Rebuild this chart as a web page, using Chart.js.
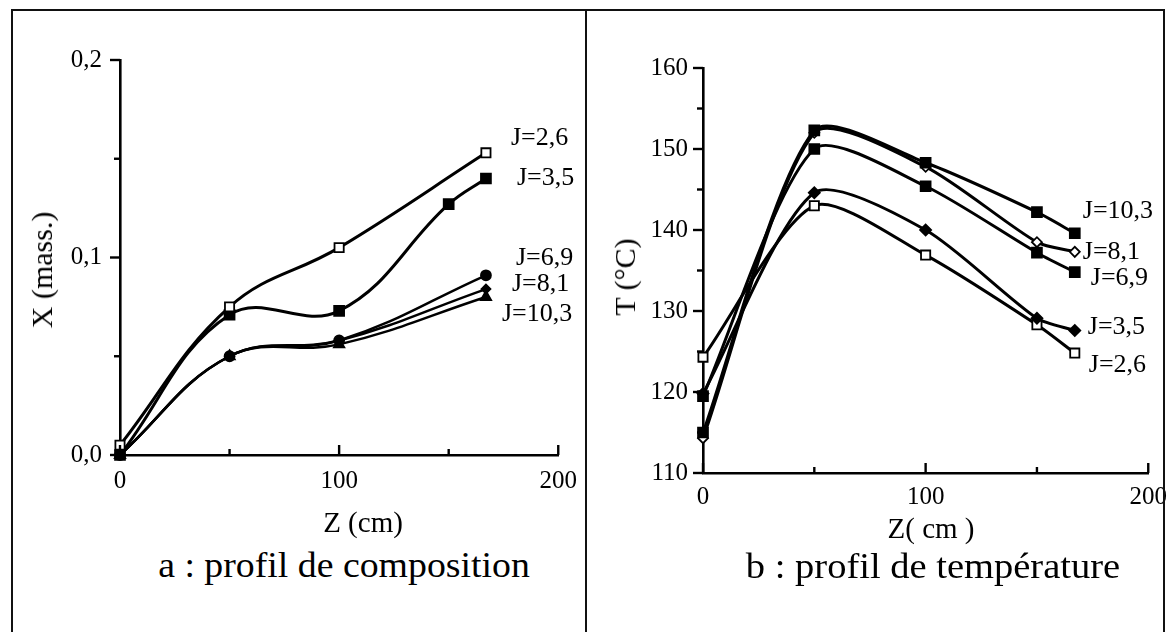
<!DOCTYPE html>
<html><head><meta charset="utf-8">
<script src="https://cdn.jsdelivr.net/npm/chart.js@4.4.0/dist/chart.umd.min.js"></script>
<style>
html,body{margin:0;padding:0;background:#fff;}
#page{position:relative;width:1176px;height:632px;overflow:hidden;background:#fff;font-family:'Liberation Serif','Times New Roman',serif;color:#000;}
canvas{position:absolute;top:0;}
.frame{position:absolute;background:#111;}
.txt{position:absolute;white-space:nowrap;line-height:1;}
</style></head><body>
<div id="page">
 <canvas id="cA" width="588" height="520" style="left:0"></canvas>
 <canvas id="cB" width="588" height="520" style="left:588px"></canvas>

 <div class="frame" style="left:12px;top:9px;width:1153px;height:2px"></div>
 <div class="frame" style="left:11px;top:9px;width:2px;height:640px"></div>
 <div class="frame" style="left:585px;top:9px;width:2px;height:640px"></div>
 <div class="frame" style="left:1163px;top:9px;width:2px;height:640px"></div>

 <div class="txt" style="left:42px;top:270px;font-size:30px;transform:translate(-50%,-50%) rotate(-90deg)">X (mass.)</div>
 <div class="txt" style="left:625px;top:277px;font-size:30px;transform:translate(-50%,-50%) rotate(-90deg)">T (°C)</div>
 <div class="txt" style="left:363px;top:508px;font-size:29px;transform:translateX(-50%)">Z (cm)</div>
 <div class="txt" style="left:931px;top:514px;font-size:29px;transform:translateX(-50%)">Z( cm )</div>
 <div class="txt" style="left:344px;top:547px;font-size:36px;transform:translateX(-50%) scaleX(1.05)">a : profil de composition</div>
 <div class="txt" style="left:933px;top:548px;font-size:36px;transform:translateX(-50%) scaleX(1.07)">b : profil de température</div>
</div>
<script>
// ---------- data: (a) composition profile ----------
const zA = [0, 50, 100, 150, 167];
const seriesNamesA = ['J=2,6', 'J=3,5', 'J=6,9', 'J=8,1', 'J=10,3'];
const xJ26 = [0.005, 0.075, 0.105, null, 0.153];
const xJ35 = [0.000, 0.071, 0.073, 0.127, 0.140];
const xJ69 = [0.000, 0.050, 0.058, null, 0.091];
const xJ81 = [0.000, 0.050, 0.058, null, 0.084];
const xJ103 = [0.000, 0.050, 0.056, null, 0.080];
const xTicksA = [0, 50, 100, 150, 200];
const xTickLabelsA = ['0', '', '100', '', '200'];
const yTicksA = [0, 0.05, 0.1, 0.15, 0.2];
const yTickLabelsA = ['0,0', '', '0,1', '', '0,2'];

// ---------- data: (b) temperature profile ----------
const zB = [0, 50, 100, 150, 167];
const seriesNamesB = ['J=10,3', 'J=8,1', 'J=6,9', 'J=3,5', 'J=2,6'];
const tJ103 = [115.0, 152.3, 148.3, 142.2, 139.6];
const tJ81 = [114.3, 152.0, 147.8, 138.5, 137.3];
const tJ69 = [119.5, 150.0, 145.4, 137.2, 134.8];
const tJ35 = [119.8, 144.6, 140.0, 129.1, 127.6];
const tJ26 = [124.3, 143.0, 136.9, 128.3, 124.8];
const xTicksB = [0, 50, 100, 150, 200];
const xTickLabelsB = ['0', '', '100', '', '200'];
const yTicksB = [110, 115, 120, 125, 130, 135, 140, 145, 150, 155, 160];
const yTickLabelsB = ['110', '', '120', '', '130', '', '140', '', '150', '', '160'];

// ---------- styling ----------
const FONT = "'Liberation Serif', 'Times New Roman', serif";
Chart.defaults.font.family = FONT;
Chart.defaults.font.size = 25;
Chart.defaults.color = '#000';

const styleA = [
  {pointStyle:'rect', radius:6.5, fill:'#fff', width:3, label:[25,-15]},
  {pointStyle:'rect', radius:7, fill:'#000', width:3, label:[31,0]},
  {pointStyle:'circle', radius:5, fill:'#000', width:2.5, label:[30,-17]},
  {pointStyle:'rectRot', radius:4.5, fill:'#000', width:2.5, label:[26,-5]},
  {pointStyle:'triangle', radius:6, fill:'#000', width:2.5, label:[16,17]}
];
const styleB = [
  {pointStyle:'rect', radius:7, fill:'#000', width:3, label:[8,-22]},
  {pointStyle:'rectRot', radius:5, fill:'#fff', width:3, label:[8,0]},
  {pointStyle:'rect', radius:7, fill:'#000', width:3, label:[16,6]},
  {pointStyle:'rectRot', radius:5.5, fill:'#000', width:3, label:[13,-3]},
  {pointStyle:'rect', radius:6.5, fill:'#fff', width:3, label:[14,12]}
];

function toPoints(z, vals){ return z.map((x,i)=>({x:x, y:vals[i]})); }

const tickMarks = {
  id:'tickMarks',
  afterDraw(chart, args, o){
    const {ctx, chartArea:a, scales:{x,y}} = chart;
    ctx.save(); ctx.strokeStyle='#000'; ctx.lineWidth=2.4;
    o.xTicks.forEach((v,i)=>{
      const px = x.getPixelForValue(v); const len = o.xLabels[i] ? 10 : 6;
      ctx.beginPath(); ctx.moveTo(px, a.bottom); ctx.lineTo(px, a.bottom-len); ctx.stroke();
    });
    o.yTicks.forEach((v,i)=>{
      const py = y.getPixelForValue(v); const len = o.yLabels[i] ? 10 : 6;
      ctx.beginPath(); ctx.moveTo(a.left, py); ctx.lineTo(a.left-len, py); ctx.stroke();
    });
    ctx.restore();
  }
};
const endLabels = {
  id:'endLabels',
  afterDatasetsDraw(chart, args, o){
    const ctx = chart.ctx; ctx.save();
    ctx.font = o.size + 'px ' + FONT; ctx.fillStyle = '#000';
    ctx.textBaseline = 'middle'; ctx.textAlign = 'left';
    chart.data.datasets.forEach((ds,i)=>{
      const meta = chart.getDatasetMeta(i); const pt = meta.data[meta.data.length-1];
      const off = o.offsets[i];
      ctx.fillText(ds.label, pt.x + off[0], pt.y + off[1]);
    });
    ctx.restore();
  }
};

function makeChart(id, names, seriesList, z, styles, xT, xL, yT, yL, box, yPad, xPad, tension){
  const canvas = document.getElementById(id);
  const datasets = seriesList.map((vals,i)=>({
    label: names[i], data: toPoints(z, vals),
    borderColor:'#000', borderWidth: styles[i].width,
    pointStyle: styles[i].pointStyle, pointRadius: styles[i].radius,
    pointBackgroundColor: styles[i].fill, pointBorderColor:'#000', pointBorderWidth:1.8,
    tension:tension, spanGaps:true, clip:false, fill:false
  }));
  const tickFont = {family:FONT, size:25};
  return new Chart(canvas, {
    type:'line',
    data:{datasets},
    plugins:[tickMarks, endLabels],
    options:{
      responsive:false, animation:false, events:[],
      layout:{padding:{left:0, top:box.top, right:canvas.width-box.right, bottom:0}},
      plugins:{legend:{display:false}, tooltip:{enabled:false},
        tickMarks:{xTicks:xT, xLabels:xL, yTicks:yT, yLabels:yL},
        endLabels:{size:26, offsets: styles.map(s=>s.label)}},
      scales:{
        x:{type:'linear', min:xT[0], max:xT[xT.length-1],
          grid:{display:false, drawTicks:false, tickLength:0}, border:{display:true, color:'#000', width:2.6},
          afterBuildTicks:s=>{ s.ticks = xT.map(v=>({value:v})); },
          afterFit:s=>{ s.height = canvas.height - box.bottom; },
          ticks:{color:'#000', padding:xPad, maxRotation:0, autoSkip:false,
            font:tickFont, callback:(v,i)=>xL[i]}},
        y:{type:'linear', min:yT[0], max:yT[yT.length-1],
          grid:{display:false, drawTicks:false, tickLength:0}, border:{display:true, color:'#000', width:2.6},
          afterBuildTicks:s=>{ s.ticks = yT.map(v=>({value:v})); },
          afterFit:s=>{ s.width = box.left; },
          ticks:{color:'#000', padding:yPad, autoSkip:false,
            font:tickFont, callback:(v,i)=>yL[i]}}
      }
    }
  });
}

makeChart('cA', seriesNamesA, [xJ26, xJ35, xJ69, xJ81, xJ103], zA, styleA,
  xTicksA, xTickLabelsA, yTicksA, yTickLabelsA, {left:120, right:560, top:60, bottom:455}, 18, 11, 0.4);
makeChart('cB', seriesNamesB, [tJ103, tJ81, tJ69, tJ35, tJ26], zB, styleB,
  xTicksB, xTickLabelsB, yTicksB, yTickLabelsB, {left:115, right:565, top:68, bottom:473}, 15, 9, 0.25);
</script>
</body></html>
